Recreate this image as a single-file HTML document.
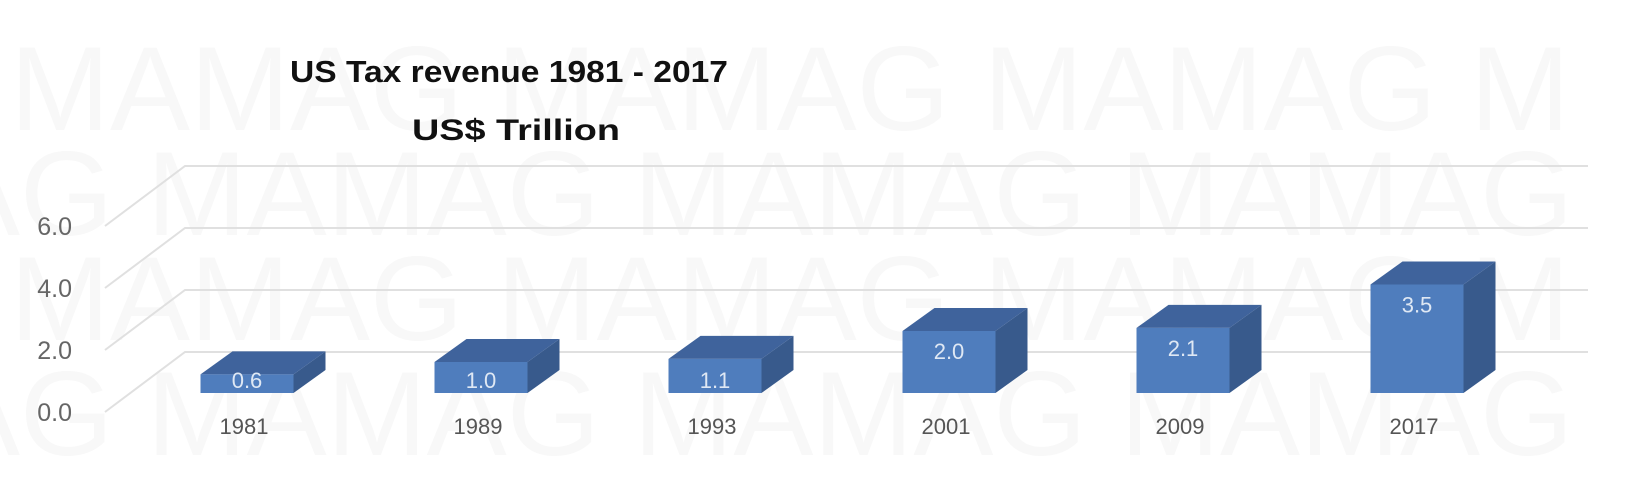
<!DOCTYPE html>
<html><head><meta charset="utf-8">
<style>
html,body{margin:0;padding:0;background:#fff;}
svg{display:block;font-family:"Liberation Sans",sans-serif;}
</style></head>
<body>
<svg id="chart" width="1636" height="504" viewBox="0 0 1636 504" xmlns="http://www.w3.org/2000/svg">
  <g fill="#f8f8f8" font-size="120">
    <text x="10" y="130">MAMAG MAMAG MAMAG M</text>
    <text x="-60" y="235">AG MAMAG MAMAG MAMAG</text>
    <text x="10" y="340">MAMAG MAMAG MAMAG M</text>
    <text x="-60" y="455">AG MAMAG MAMAG MAMAG</text>
  </g>
  <g id="grid"></g>
  <g id="yaxis"></g>
  <g id="bars"></g>
  <g id="xaxis"></g>
  <text x="290" y="82" font-size="31" font-weight="bold" fill="#111" textLength="438" lengthAdjust="spacingAndGlyphs">US Tax revenue 1981 - 2017</text>
  <text x="412" y="140" font-size="30" font-weight="bold" fill="#111" textLength="208" lengthAdjust="spacingAndGlyphs">US$ Trillion</text>
</svg>
<script>
const categories = ["1981","1989","1993","2001","2009","2017"];
const values = [0.6, 1.0, 1.1, 2.0, 2.1, 3.5];
const valueLabels = ["0.6","1.0","1.1","2.0","2.1","3.5"];
const yTicks = [0, 2, 4, 6];
const yTickLabels = ["0.0","2.0","4.0","6.0"];

const NS = "http://www.w3.org/2000/svg";
const pxPerUnit = 31;
const floorFrontY = 412, frontX = 105, depthDX = 80, depthDY = -60, backRight = 1588;
const barBaseY = 393, firstCenter = 247, spacing = 234, barW = 93, bdx = 32, bdy = -23;
function yFront(v){ return floorFrontY - v * pxPerUnit; }
function yBar(v){ return barBaseY - v * pxPerUnit; }
function xCenter(i){ return firstCenter + i * spacing; }
function mk(tag, attrs, parent){ const e = document.createElementNS(NS, tag); for (const k in attrs) e.setAttribute(k, attrs[k]); parent.appendChild(e); return e; }

const grid = document.getElementById('grid');
const yaxis = document.getElementById('yaxis');
yTicks.forEach((t, i) => {
  const y = yFront(t);
  const p = mk('polyline', {points: `${frontX},${y} ${frontX+depthDX},${y+depthDY} ${backRight},${y+depthDY}`, fill: 'none', stroke: '#e0e0e0', 'stroke-width': 2}, grid);
  
  
  const tx = mk('text', {x: 72, y: y + 9, 'text-anchor': 'end', 'font-size': 25, fill: '#666'}, yaxis);
  tx.textContent = yTickLabels[i];
  
  
});

const bars = document.getElementById('bars');
const xaxis = document.getElementById('xaxis');
values.forEach((v, i) => {
  const cx = xCenter(i), x0 = cx - barW/2, x1 = cx + barW/2;
  const yb = barBaseY, yt = yBar(v);
  const g = mk('g', {}, bars);
  
  
  mk('polygon', {points: `${x1},${yb} ${x1+bdx},${yb+bdy} ${x1+bdx},${yt+bdy} ${x1},${yt}`, fill: '#385a8c'}, g);
  mk('polygon', {points: `${x0},${yt} ${x0+bdx},${yt+bdy} ${x1+bdx},${yt+bdy} ${x1},${yt}`, fill: '#3f639c'}, g);
  mk('rect', {x: x0, y: yt, width: barW, height: yb - yt, fill: '#4f7dbd'}, g);
  const lbl = mk('text', {x: cx, y: v < 1.5 ? yb - 5 : yt + 28, 'text-anchor': 'middle', 'font-size': 22, fill: '#dfe8f4'}, g);
  lbl.textContent = valueLabels[i];
  
  
  const xl = mk('text', {x: cx - 3, y: 434, 'text-anchor': 'middle', 'font-size': 22, fill: '#555'}, xaxis);
  xl.textContent = categories[i];
  
  
});
</script>
</body></html>
